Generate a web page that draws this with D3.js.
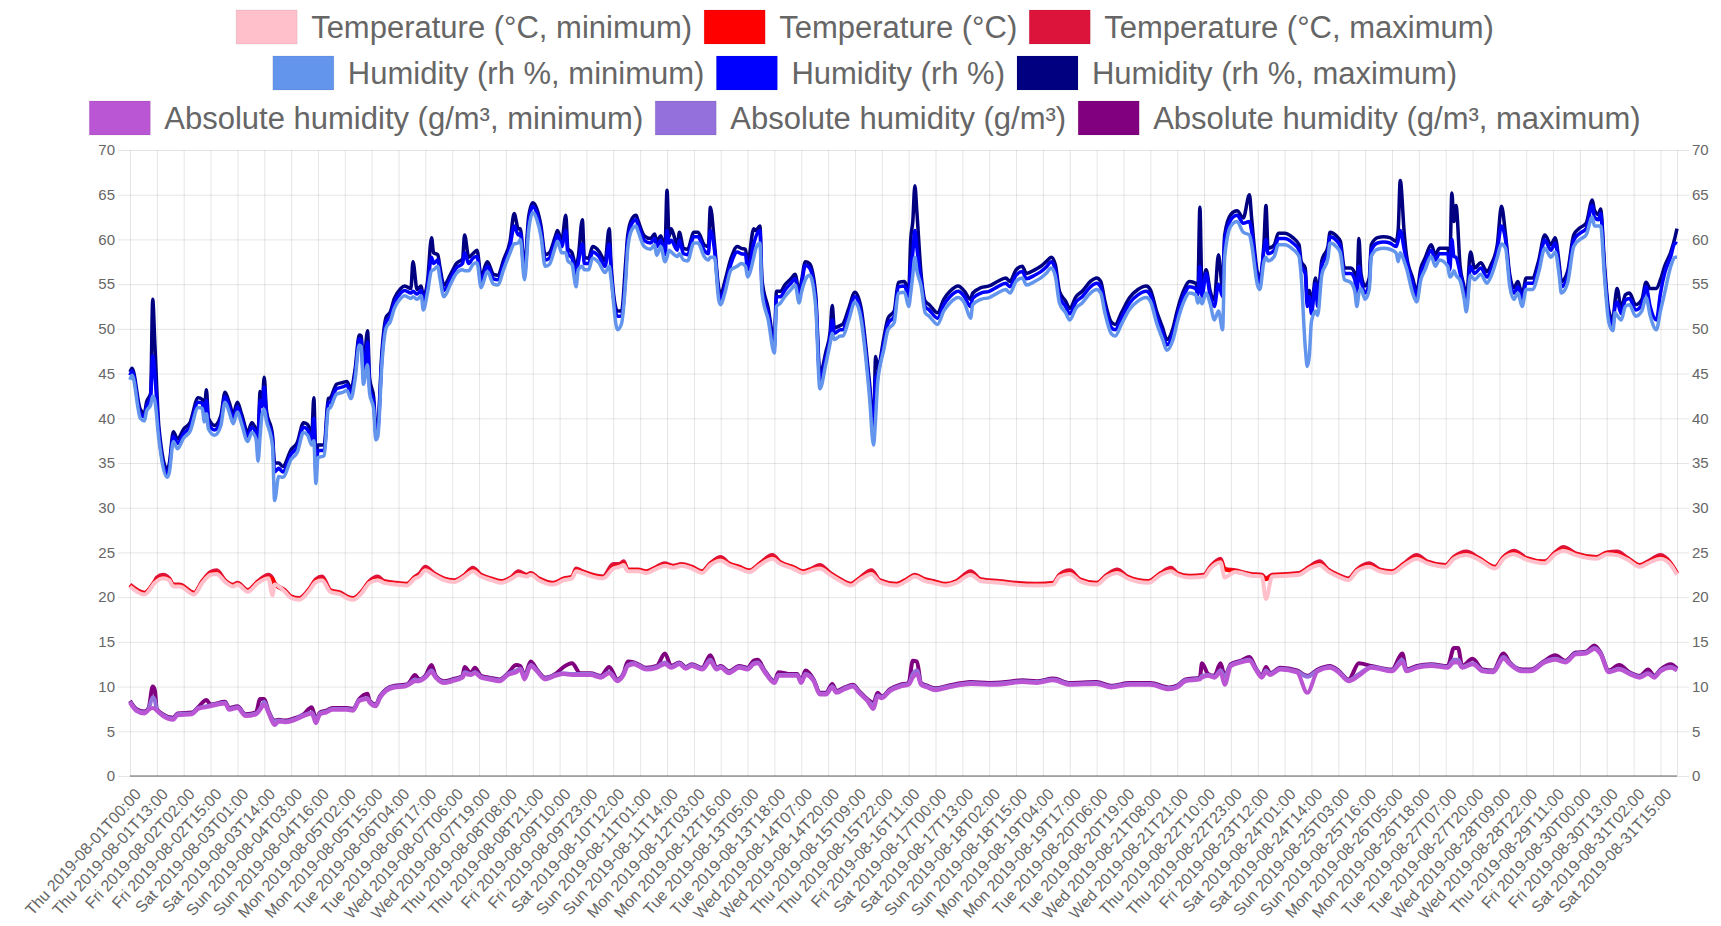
<!DOCTYPE html>
<html>
<head>
<meta charset="utf-8">
<script src="https://cdn.jsdelivr.net/npm/d3@7"></script>
<style>
  body { margin: 0; background: #fff; }
  svg text { font-family: "Liberation Sans", Arial, Helvetica, sans-serif; fill: #666; }
</style>
</head>
<body>
<div id="chart"></div>
<script>
// Sensor readings, August 2019 (point index along the category axis, one point per reading)
const xTickLabels = [
  "Thu 2019-08-01T00:00", "Thu 2019-08-01T13:00", "Fri 2019-08-02T02:00", "Fri 2019-08-02T15:00",
  "Sat 2019-08-03T01:00", "Sat 2019-08-03T14:00", "Sun 2019-08-04T03:00", "Sun 2019-08-04T16:00",
  "Mon 2019-08-05T02:00", "Mon 2019-08-05T15:00", "Tue 2019-08-06T04:00", "Tue 2019-08-06T17:00",
  "Wed 2019-08-07T06:00", "Wed 2019-08-07T19:00", "Thu 2019-08-08T08:00", "Thu 2019-08-08T21:00",
  "Fri 2019-08-09T10:00", "Fri 2019-08-09T23:00", "Sat 2019-08-10T12:00", "Sun 2019-08-11T01:00",
  "Sun 2019-08-11T14:00", "Mon 2019-08-12T03:00", "Mon 2019-08-12T16:00", "Tue 2019-08-13T05:00",
  "Tue 2019-08-13T18:00", "Wed 2019-08-14T07:00", "Wed 2019-08-14T20:00", "Thu 2019-08-15T09:00",
  "Thu 2019-08-15T22:00", "Fri 2019-08-16T11:00", "Sat 2019-08-17T00:00", "Sat 2019-08-17T13:00",
  "Sun 2019-08-18T02:00", "Sun 2019-08-18T15:00", "Mon 2019-08-19T04:00", "Mon 2019-08-19T17:00",
  "Tue 2019-08-20T06:00", "Tue 2019-08-20T19:00", "Wed 2019-08-21T08:00", "Wed 2019-08-21T21:00",
  "Thu 2019-08-22T10:00", "Thu 2019-08-22T23:00", "Fri 2019-08-23T12:00", "Sat 2019-08-24T01:00",
  "Sat 2019-08-24T14:00", "Sun 2019-08-25T03:00", "Sun 2019-08-25T16:00", "Mon 2019-08-26T05:00",
  "Mon 2019-08-26T18:00", "Tue 2019-08-27T07:00", "Tue 2019-08-27T20:00", "Wed 2019-08-28T09:00",
  "Wed 2019-08-28T22:00", "Thu 2019-08-29T11:00", "Fri 2019-08-30T00:00", "Fri 2019-08-30T13:00",
  "Sat 2019-08-31T02:00", "Sat 2019-08-31T15:00"
];
const labelStep = 13;      // category axis shows every 13th reading
const lastIndex = 749;     // 750 readings

const yTicks = [0, 5, 10, 15, 20, 25, 30, 35, 40, 45, 50, 55, 60, 65, 70];

// Humidity (rh %)
const humIdx = [
  0, 1, 5, 7, 8, 10, 11, 12, 14, 18,
  19, 21, 23, 26, 29, 33, 35, 36, 37, 38,
  41, 44, 46, 48, 50, 52, 54, 57, 59, 61,
  62, 63, 64, 65, 66, 69, 70, 72, 74, 78,
  81, 84, 86, 88, 89, 90, 91, 94, 96, 97,
  100, 103, 105, 107, 109, 111, 112, 113, 115, 116,
  118, 119, 120, 122, 124, 126, 128, 131, 133, 136,
  137, 139, 141, 142, 144, 146, 147, 149, 150, 152,
  155, 158, 161, 162, 164, 166, 168, 170, 173, 176,
  178, 181, 184, 186, 188, 189, 191, 193, 195, 197,
  199, 201, 203, 206, 207, 209, 211, 212, 214, 216,
  217, 219, 220, 222, 224, 227, 230, 232, 233, 236,
  238, 240, 241, 243, 245, 246, 249, 252, 254, 255,
  257, 259, 260, 261, 262, 265, 266, 268, 270, 273,
  275, 278, 280, 281, 283, 285, 286, 288, 291, 294,
  296, 298, 299, 302, 303, 305, 306, 309, 312, 313,
  315, 317, 320, 322, 324, 325, 327, 329, 332, 334,
  337, 339, 340, 341, 344, 345, 348, 351, 354, 356,
  358, 360, 361, 362, 365, 367, 370, 372, 375, 377,
  378, 379, 380, 381, 383, 385, 387, 391, 394, 397,
  401, 404, 407, 408, 412, 416, 420, 424, 426, 429,
  432, 434, 438, 441, 444, 446, 448, 450, 453, 455,
  458, 461, 465, 468, 470, 472, 475, 477, 480, 484,
  488, 492, 494, 497, 500, 502, 505, 507, 510, 513,
  516, 517, 518, 519, 521, 523, 525, 527, 529, 530,
  533, 536, 539, 542, 543, 546, 547, 549, 550, 551,
  554, 556, 559, 563, 566, 567, 569, 570, 571, 572,
  574, 575, 577, 580, 581, 584, 586, 588, 591, 593,
  594, 595, 596, 598, 600, 601, 604, 607, 610, 613,
  614, 615, 617, 618, 621, 623, 625, 627, 630, 632,
  634, 638, 639, 640, 641, 642, 644, 646, 647, 649,
  651, 654, 657, 659, 662, 664, 666, 668, 670, 672,
  674, 676, 679, 682, 685, 688, 690, 692, 693, 696,
  699, 702, 705, 708, 709, 711, 712, 714, 716, 718,
  719, 720, 722, 724, 726, 729, 732, 734, 736, 739,
  741, 743, 746, 748, 749
];
const humAvg = [
  44.8, 45.3, 40.5, 40.2, 41.3, 42.4, 47.0, 45.0, 38.3, 33.8,
  34.4, 38.0, 37.2, 38.3, 39.0, 41.8, 41.7, 40.2, 42.0, 39.4,
  38.7, 39.8, 42.4, 41.3, 40.0, 41.3, 40.0, 38.0, 39.0, 38.3,
  37.5, 42.0, 41.3, 43.5, 40.5, 37.6, 34.0, 34.4, 34.0, 36.0,
  36.8, 39.0, 38.7, 37.6, 40.0, 34.0, 36.4, 36.4, 41.7, 41.8,
  43.3, 43.5, 43.7, 42.8, 45.0, 48.9, 48.7, 44.6, 48.5, 43.5,
  41.7, 38.3, 38.7, 46.9, 50.8, 51.4, 52.9, 54.0, 54.3, 54.0,
  54.2, 53.9, 54.3, 52.9, 54.7, 58.0, 57.3, 57.7, 56.4, 54.3,
  55.5, 56.8, 57.3, 58.5, 57.3, 57.9, 58.1, 55.3, 57.0, 55.6,
  55.5, 57.3, 59.2, 61.5, 60.5, 60.7, 56.2, 61.8, 63.7, 62.9,
  61.0, 57.7, 57.9, 59.9, 60.5, 59.2, 61.0, 58.4, 57.9, 56.2,
  57.3, 59.5, 57.3, 57.3, 58.6, 58.1, 57.0, 59.5, 56.2, 51.4,
  51.4, 56.2, 59.9, 61.8, 62.2, 61.6, 59.9, 59.6, 60.1, 59.2,
  59.9, 58.3, 61.0, 59.6, 59.9, 58.8, 59.9, 58.4, 58.3, 60.3,
  60.3, 58.8, 58.4, 61.0, 58.8, 54.0, 53.2, 54.7, 57.3, 58.6,
  58.4, 58.3, 56.6, 59.5, 60.3, 61.0, 54.7, 51.7, 48.0, 53.6,
  53.6, 54.3, 55.1, 55.6, 53.6, 54.7, 57.1, 56.8, 53.2, 44.3,
  46.9, 49.1, 51.0, 49.5, 49.9, 49.9, 51.7, 53.6, 51.7, 48.0,
  43.5, 38.3, 44.5, 45.0, 48.4, 50.6, 51.4, 54.7, 54.8, 53.6,
  57.0, 58.5, 61.0, 59.0, 55.5, 52.5, 52.1, 51.2, 52.7, 53.6,
  54.2, 53.6, 52.5, 53.4, 54.0, 54.2, 54.7, 55.1, 54.7, 56.0,
  56.4, 55.6, 56.0, 56.4, 57.0, 57.5, 56.6, 53.6, 52.5, 51.7,
  53.0, 53.6, 54.7, 55.1, 54.7, 52.5, 50.2, 49.9, 51.2, 52.9,
  53.8, 54.2, 53.8, 51.4, 49.5, 48.2, 49.5, 51.4, 53.6, 54.7,
  54.5, 53.8, 57.0, 53.6, 56.2, 53.6, 52.5, 55.0, 53.6, 59.9,
  62.2, 62.7, 61.8, 62.0, 61.0, 55.5, 55.1, 58.8, 60.0, 58.4,
  58.8, 60.1, 60.1, 59.6, 58.8, 57.0, 56.2, 52.5, 53.6, 51.7,
  55.1, 52.5, 57.0, 58.6, 60.3, 59.9, 59.2, 56.2, 56.2, 55.5,
  53.6, 57.0, 55.5, 54.0, 55.1, 58.8, 59.6, 59.7, 59.6, 59.2,
  59.9, 61.0, 58.8, 57.7, 55.1, 53.6, 56.2, 57.3, 58.8, 57.7,
  58.4, 58.4, 56.6, 60.0, 58.1, 58.0, 56.2, 54.0, 52.5, 57.0,
  56.2, 56.8, 55.8, 56.6, 58.8, 61.5, 59.9, 55.5, 54.0, 54.7,
  53.2, 55.1, 55.1, 57.0, 59.9, 58.8, 59.6, 56.6, 54.7, 55.8,
  59.9, 60.7, 61.2, 63.8, 62.5, 62.2, 62.9, 56.2, 51.4, 50.4,
  52.5, 53.0, 51.7, 53.2, 53.4, 52.1, 52.7, 54.7, 52.5, 51.0,
  54.0, 56.2, 58.1, 59.6, 59.5
];
const humMin = [
  44.3, 44.8, 40.0, 39.7, 40.8, 41.5, 42.5, 42.0, 37.6, 33.4,
  33.9, 37.4, 36.6, 37.8, 38.5, 41.2, 41.1, 39.6, 40.5, 38.8,
  38.1, 39.2, 41.8, 40.7, 39.4, 40.7, 39.4, 37.4, 38.4, 37.7,
  35.2, 38.0, 40.5, 41.0, 39.8, 36.9, 30.8, 33.5, 33.4, 35.4,
  36.2, 38.4, 38.1, 37.0, 37.5, 32.7, 35.6, 35.8, 41.0, 41.2,
  42.7, 42.9, 43.1, 42.2, 44.4, 48.2, 48.0, 43.8, 46.0, 42.8,
  41.0, 37.6, 38.0, 46.2, 50.1, 50.8, 52.3, 53.4, 53.7, 53.4,
  53.6, 53.3, 53.7, 52.1, 54.0, 56.5, 56.6, 57.0, 55.7, 53.6,
  54.9, 56.2, 56.6, 56.5, 56.5, 57.2, 57.4, 54.6, 56.4, 55.0,
  54.9, 56.7, 58.5, 59.5, 59.6, 60.0, 55.5, 61.0, 63.0, 62.2,
  60.3, 57.0, 57.2, 59.2, 59.8, 58.5, 58.5, 57.6, 57.2, 54.7,
  56.6, 57.0, 56.6, 56.6, 57.9, 57.4, 56.3, 57.0, 55.4, 49.9,
  50.6, 55.4, 59.0, 61.1, 61.5, 60.9, 59.2, 58.9, 59.4, 58.2,
  59.2, 57.5, 58.0, 58.8, 58.6, 58.1, 58.4, 57.7, 57.6, 59.6,
  59.6, 58.1, 57.7, 58.0, 58.0, 53.3, 52.7, 54.0, 56.6, 57.0,
  57.3, 57.0, 55.8, 58.0, 59.0, 59.6, 54.0, 51.0, 47.3, 52.5,
  52.9, 53.6, 54.4, 54.9, 52.9, 54.0, 55.5, 56.0, 52.5, 43.3,
  46.2, 48.4, 49.5, 48.8, 49.2, 49.2, 51.0, 53.0, 51.0, 47.3,
  42.5, 37.0, 40.0, 44.0, 47.7, 49.9, 50.7, 54.0, 54.1, 52.5,
  54.0, 56.0, 58.0, 56.5, 54.8, 51.8, 51.4, 50.5, 52.0, 52.9,
  53.5, 52.9, 51.2, 52.7, 53.3, 53.5, 54.0, 54.4, 54.0, 55.3,
  55.7, 54.9, 55.3, 55.7, 56.3, 56.8, 55.9, 52.9, 51.8, 51.0,
  52.3, 52.9, 54.0, 54.4, 54.0, 51.8, 49.5, 49.2, 50.5, 52.2,
  53.1, 53.5, 53.1, 50.7, 48.8, 47.6, 48.8, 50.7, 52.9, 54.0,
  53.8, 52.9, 53.5, 52.8, 54.0, 52.8, 51.0, 52.0, 49.9, 58.0,
  61.5, 62.0, 60.8, 60.5, 59.5, 54.8, 54.4, 57.5, 58.0, 57.6,
  58.1, 59.4, 59.4, 58.9, 58.1, 56.0, 48.0, 45.8, 47.0, 50.8,
  52.0, 51.5, 56.0, 57.9, 59.6, 59.2, 58.5, 55.5, 55.2, 54.2,
  52.5, 54.0, 54.5, 53.3, 54.4, 58.1, 58.9, 59.0, 58.9, 58.5,
  57.5, 58.5, 57.5, 56.8, 54.0, 53.0, 55.5, 56.6, 58.1, 57.0,
  57.7, 57.0, 55.8, 56.0, 56.5, 56.0, 55.4, 53.3, 51.9, 56.0,
  55.5, 56.1, 55.1, 55.9, 58.0, 59.5, 59.0, 54.8, 53.3, 54.0,
  52.5, 54.4, 54.4, 56.3, 59.0, 58.0, 58.6, 55.9, 54.0, 55.1,
  59.2, 60.0, 60.5, 62.5, 61.5, 61.5, 61.5, 55.5, 50.7, 49.8,
  51.8, 51.5, 51.0, 52.5, 52.7, 51.4, 52.0, 53.5, 51.5, 49.9,
  52.0, 54.0, 57.0, 58.0, 58.0
];
const humMax = [
  45.2, 45.6, 41.0, 40.6, 41.8, 42.8, 53.3, 48.5, 39.0, 34.3,
  34.9, 38.5, 37.7, 38.8, 39.5, 42.3, 42.1, 40.8, 43.2, 40.0,
  39.2, 40.3, 42.9, 41.8, 40.5, 41.8, 40.5, 38.5, 39.5, 38.8,
  38.5, 43.0, 41.8, 44.6, 41.0, 38.1, 35.0, 35.0, 34.6, 36.5,
  37.3, 39.5, 39.3, 38.2, 42.3, 35.5, 37.0, 37.0, 42.2, 42.3,
  43.8, 44.0, 44.1, 43.3, 45.5, 49.3, 49.2, 45.5, 49.8, 44.5,
  42.3, 38.9, 39.3, 47.5, 51.3, 51.9, 53.4, 54.5, 54.8, 54.5,
  57.5, 54.4, 54.8, 53.6, 55.2, 60.2, 58.5, 58.3, 57.0, 54.9,
  56.0, 57.3, 57.8, 60.5, 58.0, 58.4, 58.8, 55.9, 57.5, 56.1,
  56.0, 57.8, 59.8, 62.9, 61.2, 61.2, 56.8, 62.5, 64.1, 63.4,
  61.5, 58.3, 58.5, 60.4, 61.0, 59.8, 62.7, 59.0, 58.5, 57.0,
  58.0, 62.2, 58.0, 57.9, 59.2, 58.7, 57.6, 61.2, 56.9, 52.0,
  52.0, 57.5, 60.5, 62.3, 62.7, 62.1, 60.4, 60.1, 60.6, 59.8,
  60.4, 58.9, 65.5, 60.3, 61.2, 59.4, 60.8, 59.0, 58.9, 60.8,
  60.8, 59.4, 59.2, 63.6, 59.5, 54.6, 53.8, 55.3, 57.9, 59.2,
  59.0, 58.9, 57.3, 61.2, 61.0, 61.5, 55.5, 52.3, 48.6, 54.2,
  54.2, 54.9, 55.6, 56.1, 54.2, 55.2, 57.5, 57.3, 53.8, 45.0,
  47.5, 49.7, 52.6, 50.1, 50.4, 50.5, 52.3, 54.1, 52.3, 48.6,
  44.1, 39.0, 46.9, 45.6, 49.0, 51.2, 52.0, 55.2, 55.3, 54.2,
  60.0, 62.0, 66.0, 63.0, 56.2, 53.1, 52.7, 51.8, 53.3, 54.2,
  54.8, 54.2, 53.3, 54.0, 54.6, 54.8, 55.3, 55.7, 55.3, 56.6,
  57.0, 56.2, 56.6, 57.0, 57.6, 58.0, 57.2, 54.2, 53.1, 52.3,
  53.6, 54.2, 55.3, 55.7, 55.3, 53.1, 50.8, 50.5, 51.8, 53.5,
  54.4, 54.8, 54.4, 52.0, 50.1, 48.8, 50.1, 52.0, 54.2, 55.3,
  55.1, 54.4, 63.6, 54.5, 56.6, 54.2, 53.2, 58.3, 54.5, 60.5,
  62.8, 63.2, 62.4, 65.0, 62.5, 56.1, 55.7, 59.5, 63.8, 59.0,
  59.4, 60.7, 60.7, 60.2, 59.4, 57.6, 56.8, 53.5, 54.3, 52.5,
  55.7, 53.5, 57.6, 59.2, 60.8, 60.4, 59.8, 56.8, 56.8, 56.2,
  54.5, 60.1, 56.2, 54.8, 55.7, 59.4, 60.2, 60.3, 60.2, 59.8,
  61.0, 66.6, 60.5, 58.3, 55.7, 54.2, 56.8, 57.9, 59.4, 58.3,
  59.0, 59.0, 57.5, 65.2, 62.0, 63.8, 57.0, 54.6, 53.1, 58.6,
  56.8, 57.4, 56.4, 57.2, 59.4, 63.7, 60.5, 56.1, 54.6, 55.3,
  53.8, 55.7, 55.7, 57.6, 60.5, 59.4, 60.2, 57.2, 55.3, 56.4,
  60.5, 61.3, 61.8, 64.4, 63.3, 62.8, 63.4, 56.8, 52.0, 51.0,
  53.1, 54.5, 52.3, 53.8, 54.0, 52.7, 53.3, 55.2, 54.5, 54.5,
  55.5, 57.0, 58.6, 60.2, 61.2
];

// Temperature (°C)
const tempIdx = [
  0, 7, 12, 13, 16, 19, 21, 24, 31, 35,
  39, 42, 46, 50, 52, 57, 62, 67, 69, 70,
  75, 78, 82, 87, 90, 93, 97, 102, 105, 108,
  112, 116, 120, 123, 129, 134, 138, 140, 143, 147,
  152, 157, 162, 166, 170, 175, 180, 185, 188, 192,
  194, 198, 205, 210, 214, 216, 219, 224, 229, 234,
  237, 239, 241, 246, 250, 255, 259, 263, 267, 272,
  277, 281, 286, 290, 295, 300, 305, 311, 315, 321,
  326, 330, 334, 339, 344, 349, 353, 359, 363, 371,
  376, 380, 385, 389, 395, 400, 407, 412, 421, 429,
  439, 447, 450, 455, 460, 468, 473, 478, 483, 493,
  499, 504, 507, 513, 520, 523, 528, 530, 535, 543,
  548, 550, 553, 560, 566, 571, 576, 580, 585, 590,
  594, 600, 605, 611, 617, 623, 628, 637, 641, 647,
  653, 661, 665, 670, 676, 685, 690, 694, 700, 710,
  715, 720, 725, 731, 735, 741, 746, 749
];
const tempAvg = [
  21.3, 20.4, 21.7, 21.9, 22.2, 22.0, 21.3, 21.3, 20.4, 21.7,
  22.6, 22.7, 21.8, 21.3, 21.5, 20.7, 21.7, 22.2, 22.0, 21.5,
  20.7, 20.0, 19.8, 20.9, 21.8, 22.0, 20.7, 20.4, 20.0, 19.8,
  20.5, 21.7, 22.0, 21.7, 21.5, 21.4, 22.2, 22.4, 23.1, 22.6,
  22.0, 21.8, 22.4, 23.0, 22.4, 22.0, 21.7, 22.2, 22.6, 22.4,
  22.6, 22.0, 21.5, 22.0, 22.2, 23.0, 22.8, 22.4, 22.2, 23.3,
  23.5, 23.7, 23.0, 23.0, 22.8, 23.3, 23.6, 23.4, 23.6, 23.3,
  22.8, 23.7, 24.2, 23.7, 23.3, 22.9, 23.7, 24.4, 23.8, 23.3,
  22.8, 23.1, 23.3, 22.6, 21.9, 21.4, 22.0, 22.7, 21.8, 21.4,
  21.9, 22.4, 21.9, 21.7, 21.4, 21.7, 22.6, 21.9, 21.7, 21.5,
  21.4, 21.5, 22.4, 22.7, 21.9, 21.5, 22.4, 22.8, 22.2, 21.7,
  22.6, 23.0, 22.6, 22.3, 22.4, 23.3, 24.0, 23.1, 22.9, 22.5,
  22.4, 22.0, 22.4, 22.5, 22.6, 23.3, 23.7, 23.0, 22.4, 22.0,
  23.0, 23.5, 23.0, 22.8, 23.7, 24.4, 23.9, 23.5, 24.4, 24.8,
  24.3, 23.3, 24.4, 24.9, 24.3, 23.9, 24.9, 25.3, 24.8, 24.4,
  24.9, 24.8, 24.3, 23.5, 23.9, 24.4, 23.7, 22.6
];
const tempMin = [
  21.2, 20.3, 21.6, 21.8, 22.1, 21.9, 21.2, 21.2, 20.3, 21.6,
  22.5, 22.6, 21.7, 21.2, 21.4, 20.6, 21.6, 22.1, 20.2, 21.4,
  20.6, 19.9, 19.7, 20.8, 21.7, 21.9, 20.6, 20.3, 19.9, 19.7,
  20.4, 21.6, 21.9, 21.6, 21.4, 21.3, 22.1, 22.3, 23.0, 22.5,
  21.9, 21.7, 22.3, 22.9, 22.3, 21.9, 21.6, 22.1, 22.5, 22.3,
  22.5, 21.9, 21.4, 21.9, 22.1, 22.9, 22.7, 22.3, 22.1, 23.2,
  23.4, 23.6, 22.9, 22.9, 22.7, 23.2, 23.5, 23.3, 23.5, 23.2,
  22.7, 23.6, 24.1, 23.6, 23.2, 22.8, 23.6, 24.3, 23.7, 23.2,
  22.7, 23.0, 23.2, 22.5, 21.8, 21.3, 21.9, 22.6, 21.7, 21.3,
  21.8, 22.3, 21.8, 21.6, 21.3, 21.6, 22.5, 21.8, 21.6, 21.4,
  21.3, 21.4, 22.3, 22.6, 21.8, 21.4, 22.3, 22.7, 22.1, 21.6,
  22.5, 22.9, 22.5, 22.2, 22.3, 23.2, 23.9, 22.2, 22.8, 22.4,
  22.3, 19.8, 22.3, 22.4, 22.5, 23.2, 23.6, 22.9, 22.3, 21.9,
  22.9, 23.4, 22.9, 22.7, 23.6, 24.3, 23.8, 23.4, 24.3, 24.7,
  24.2, 23.2, 24.3, 24.8, 24.2, 23.8, 24.8, 25.2, 24.7, 24.3,
  24.8, 24.7, 24.2, 23.4, 23.8, 24.3, 23.6, 22.5
];
const tempMax = [
  21.4, 20.5, 21.8, 22.2, 22.5, 22.1, 21.4, 21.4, 20.5, 21.8,
  22.8, 23.0, 21.9, 21.4, 21.6, 20.8, 21.8, 22.5, 22.1, 21.6,
  20.8, 20.1, 19.9, 21.0, 22.0, 22.3, 20.8, 20.5, 20.1, 19.9,
  20.6, 21.8, 22.3, 21.8, 21.6, 21.5, 22.3, 22.6, 23.4, 22.7,
  22.1, 21.9, 22.5, 23.3, 22.5, 22.1, 21.8, 22.3, 22.9, 22.5,
  22.7, 22.1, 21.6, 22.1, 22.3, 23.2, 22.9, 22.5, 22.3, 23.7,
  23.7, 24.0, 23.1, 23.1, 22.9, 23.4, 23.8, 23.5, 23.7, 23.4,
  22.9, 23.8, 24.5, 23.8, 23.4, 23.0, 23.8, 24.7, 23.9, 23.4,
  22.9, 23.2, 23.6, 22.7, 22.0, 21.5, 22.1, 23.0, 21.9, 21.5,
  22.0, 22.5, 22.0, 21.8, 21.5, 21.8, 22.9, 22.0, 21.8, 21.6,
  21.5, 21.6, 22.5, 23.0, 22.0, 21.6, 22.5, 23.1, 22.3, 21.8,
  22.7, 23.3, 22.7, 22.4, 22.5, 23.4, 24.3, 23.2, 23.0, 22.6,
  22.5, 22.1, 22.5, 22.6, 22.7, 23.4, 24.0, 23.1, 22.5, 22.1,
  23.1, 23.8, 23.1, 22.9, 23.8, 24.7, 24.0, 23.6, 24.5, 25.1,
  24.4, 23.4, 24.5, 25.2, 24.4, 24.0, 25.0, 25.6, 24.9, 24.5,
  25.0, 25.1, 24.4, 23.6, 24.0, 24.7, 23.8, 22.7
];

// Absolute humidity (g/m³)
const absIdx = [
  0, 3, 7, 9, 11, 12, 13, 16, 21, 23,
  30, 33, 37, 39, 46, 48, 52, 56, 61, 63,
  65, 67, 70, 72, 75, 79, 84, 88, 90, 92,
  95, 98, 105, 108, 111, 115, 116, 119, 121, 124,
  128, 133, 135, 138, 140, 143, 146, 148, 152, 156,
  161, 162, 165, 167, 170, 174, 179, 183, 187, 189,
  191, 194, 197, 201, 206, 210, 214, 218, 223, 228,
  232, 236, 239, 241, 244, 246, 250, 255, 259, 262,
  266, 269, 272, 277, 281, 284, 286, 290, 295, 299,
  302, 304, 307, 312, 314, 320, 323, 325, 327, 331,
  334, 337, 340, 342, 346, 350, 353, 357, 360, 362,
  364, 368, 373, 377, 379, 381, 383, 386, 390, 396,
  403, 407, 416, 424, 432, 439, 447, 455, 468, 475,
  484, 494, 503, 507, 511, 518, 519, 522, 525, 528,
  530, 533, 538, 542, 545, 548, 550, 552, 557, 565,
  570, 575, 581, 585, 590, 595, 601, 611, 616, 618,
  623, 630, 638, 641, 643, 645, 650, 655, 660, 665,
  668, 674, 678, 685, 690, 695, 700, 705, 709, 712,
  716, 721, 726, 731, 735, 738, 741, 746, 749
];
const absAvg = [
  8.3, 7.4, 7.1, 7.5, 8.8, 8.5, 7.4, 6.8, 6.4, 6.9,
  7.0, 7.6, 7.8, 7.9, 8.2, 7.5, 7.7, 6.8, 7.0, 7.5,
  8.3, 7.2, 6.1, 6.2, 6.1, 6.3, 6.8, 7.1, 6.3, 7.0,
  7.2, 7.5, 7.5, 7.4, 8.5, 8.7, 8.3, 7.9, 8.8, 9.6,
  10.0, 10.1, 10.3, 10.8, 10.7, 11.1, 11.8, 11.1, 10.5, 10.7,
  11.1, 11.6, 11.4, 11.6, 11.1, 10.9, 10.7, 11.4, 11.8, 12.0,
  11.1, 12.4, 11.8, 10.9, 11.3, 11.5, 11.4, 11.4, 11.4, 11.1,
  11.6, 10.7, 11.4, 12.4, 12.6, 12.4, 12.0, 12.2, 12.7, 12.2,
  12.6, 12.1, 12.4, 12.0, 13.0, 12.0, 12.2, 11.6, 12.2, 12.0,
  12.6, 12.7, 11.8, 10.5, 11.3, 11.3, 11.3, 10.5, 11.4, 10.7,
  9.2, 9.2, 10.0, 9.4, 9.8, 10.1, 9.4, 8.5, 7.9, 9.0,
  8.8, 9.6, 10.1, 10.3, 11.4, 11.8, 10.3, 10.0, 9.7, 10.0,
  10.3, 10.4, 10.3, 10.4, 10.6, 10.5, 10.8, 10.3, 10.4, 10.0,
  10.3, 10.3, 9.8, 10.0, 10.7, 10.9, 11.2, 11.3, 11.1, 11.8,
  11.1, 12.4, 12.8, 13.0, 12.0, 11.1, 11.8, 11.4, 12.0, 11.7,
  11.1, 11.8, 12.2, 11.7, 10.7, 11.4, 12.2, 11.8, 13.0, 11.8,
  12.2, 12.4, 12.2, 13.0, 13.0, 12.2, 12.6, 11.8, 11.7, 13.3,
  12.6, 11.8, 11.8, 12.8, 13.1, 12.8, 13.7, 13.8, 14.3, 13.7,
  11.7, 12.0, 11.5, 11.1, 11.5, 11.1, 11.8, 12.2, 11.9
];
const absMin = [
  8.2, 7.3, 7.0, 7.4, 7.6, 7.5, 7.3, 6.7, 6.3, 6.8,
  6.9, 7.5, 7.7, 7.8, 8.1, 7.4, 7.6, 6.7, 6.9, 7.4,
  8.0, 7.1, 5.7, 6.1, 6.0, 6.2, 6.7, 7.0, 5.9, 6.9,
  7.1, 7.4, 7.4, 7.3, 8.4, 8.6, 8.2, 7.8, 8.7, 9.5,
  9.9, 10.0, 10.2, 10.6, 10.6, 11.0, 11.6, 11.0, 10.4, 10.6,
  11.0, 11.4, 11.3, 11.5, 11.0, 10.8, 10.6, 11.3, 11.6, 11.9,
  10.8, 12.3, 11.7, 10.8, 11.2, 11.4, 11.3, 11.3, 11.3, 11.0,
  11.5, 10.6, 11.3, 12.3, 12.5, 12.3, 11.9, 12.1, 12.5, 12.1,
  12.5, 12.0, 12.3, 11.9, 12.8, 11.9, 12.1, 11.5, 12.1, 11.9,
  12.5, 12.6, 11.7, 10.4, 11.2, 11.2, 11.2, 10.4, 11.3, 10.6,
  9.1, 9.1, 9.9, 9.3, 9.7, 10.0, 9.3, 8.4, 7.5, 8.9,
  8.7, 9.5, 10.0, 10.2, 11.0, 11.4, 10.2, 9.9, 9.6, 9.9,
  10.2, 10.3, 10.2, 10.3, 10.5, 10.4, 10.7, 10.2, 10.3, 9.9,
  10.2, 10.2, 9.7, 9.9, 10.6, 10.8, 11.0, 11.2, 11.0, 11.6,
  10.2, 12.3, 12.7, 12.9, 11.9, 11.0, 11.6, 11.3, 11.9, 11.6,
  9.3, 11.7, 12.1, 11.6, 10.6, 11.2, 12.1, 11.7, 12.7, 11.7,
  12.1, 12.3, 12.1, 12.7, 12.7, 12.1, 12.5, 11.7, 11.6, 13.1,
  12.5, 11.7, 11.7, 12.7, 13.0, 12.7, 13.6, 13.7, 14.2, 13.6,
  11.6, 11.9, 11.4, 11.0, 11.4, 11.0, 11.7, 12.1, 11.8
];
const absMax = [
  8.4, 7.5, 7.2, 7.6, 10.0, 9.6, 7.5, 6.9, 6.5, 7.0,
  7.1, 7.7, 8.5, 8.0, 8.3, 7.6, 7.8, 6.9, 7.1, 8.6,
  8.6, 7.3, 6.2, 6.3, 6.2, 6.4, 6.9, 7.7, 6.4, 7.1,
  7.3, 7.6, 7.6, 7.5, 8.6, 9.2, 8.4, 8.0, 8.9, 9.7,
  10.1, 10.2, 10.4, 11.3, 10.8, 11.2, 12.4, 11.2, 10.6, 10.8,
  11.2, 12.2, 11.5, 12.1, 11.2, 11.0, 10.8, 11.5, 12.4, 12.3,
  11.2, 12.8, 11.9, 11.0, 11.4, 12.2, 12.6, 11.5, 11.5, 11.2,
  12.2, 10.8, 11.5, 12.8, 12.7, 12.5, 12.1, 12.3, 13.7, 12.3,
  12.7, 12.2, 12.5, 12.1, 13.5, 12.1, 12.3, 11.7, 12.3, 12.1,
  12.9, 13.0, 11.9, 10.6, 11.6, 11.4, 11.4, 10.6, 11.8, 10.8,
  9.3, 9.3, 10.3, 9.5, 9.9, 10.2, 9.5, 8.6, 8.2, 9.3,
  8.9, 9.7, 10.2, 10.4, 12.9, 12.8, 10.4, 10.1, 9.8, 10.1,
  10.4, 10.5, 10.4, 10.5, 10.7, 10.6, 10.9, 10.4, 10.5, 10.1,
  10.4, 10.4, 9.9, 10.1, 10.8, 11.0, 12.6, 11.4, 11.2, 12.6,
  11.2, 12.5, 12.9, 13.3, 12.1, 11.2, 12.2, 11.5, 12.1, 11.8,
  11.2, 11.9, 12.3, 11.8, 10.8, 12.6, 12.3, 11.9, 13.7, 11.9,
  12.3, 12.5, 12.3, 14.3, 14.3, 12.3, 13.1, 11.9, 11.8, 13.7,
  12.7, 11.9, 11.9, 12.9, 13.5, 12.9, 13.8, 13.9, 14.6, 13.8,
  11.8, 12.4, 11.6, 11.2, 11.9, 11.2, 11.9, 12.5, 12.0
];

const seriesNames = [
  "Temperature (°C, minimum)", "Temperature (°C)", "Temperature (°C, maximum)",
  "Humidity (rh %, minimum)", "Humidity (rh %)", "Humidity (rh %, maximum)",
  "Absolute humidity (g/m³, minimum)", "Absolute humidity (g/m³)", "Absolute humidity (g/m³, maximum)"
];
const seriesColors = [
  "pink", "red", "crimson",
  "cornflowerblue", "blue", "navy",
  "mediumorchid", "mediumpurple", "purple"
];

// ---- layout ----
const width = 1721, height = 926;
const plot = { left: 130, right: 1677, top: 150, bottom: 776 };

const series = [
  { idx: tempIdx, values: tempMin, w: 4 }, { idx: tempIdx, values: tempAvg, w: 4 }, { idx: tempIdx, values: tempMax, w: 4 },
  { idx: humIdx, values: humMin, w: 3.5 }, { idx: humIdx, values: humAvg, w: 3.5 }, { idx: humIdx, values: humMax, w: 3.5 },
  { idx: absIdx, values: absMin, w: 4 }, { idx: absIdx, values: absAvg, w: 4 }, { idx: absIdx, values: absMax, w: 4 }
].map((s, i) => ({
  name: seriesNames[i],
  color: seriesColors[i],
  width: s.w,
  points: s.idx.map((d, j) => [d, s.values[j]])
}));

const svg = d3.select('#chart')
    .append('svg')
    .attr('width', width)
    .attr('height', height);

const x = d3.scaleLinear().domain([0, lastIndex]).range([plot.left, plot.right]);
const y = d3.scaleLinear().domain([0, 70]).range([plot.bottom, plot.top]);

const tickIdx = xTickLabels.map((d, i) => i * labelStep);

// horizontal grid lines (with the little tick stubs on both sides)
const hGrid = svg.append('g')
    .attr('transform', `translate(${plot.right + 12},0)`)
    .call(d3.axisLeft(y).tickValues(yTicks).tickSize(plot.right - plot.left + 24).tickFormat(''));
hGrid.select('.domain').remove();
hGrid.selectAll('line').attr('stroke', 'rgba(0,0,0,0.1)');

// vertical grid lines
const vGrid = svg.append('g')
    .attr('transform', `translate(0,${plot.bottom})`)
    .call(d3.axisBottom(x).tickValues(tickIdx.concat([lastIndex])).tickSize(-(plot.bottom - plot.top)).tickFormat(''));
vGrid.select('.domain').remove();
vGrid.selectAll('line').attr('stroke', 'rgba(0,0,0,0.1)');

// zero line
svg.append('line')
    .attr('x1', plot.left).attr('x2', plot.right)
    .attr('y1', y(0)).attr('y2', y(0))
    .attr('stroke', 'rgba(0,0,0,0.3)')
    .attr('stroke-width', 2);

// y axis labels, both sides
const yLeft = svg.append('g')
    .attr('transform', `translate(${plot.left},0)`)
    .call(d3.axisLeft(y).tickValues(yTicks).tickSize(0).tickPadding(15));
const yRight = svg.append('g')
    .attr('transform', `translate(${plot.right},0)`)
    .call(d3.axisRight(y).tickValues(yTicks).tickSize(0).tickPadding(15));
[yLeft, yRight].forEach(g => {
    g.select('.domain').remove();
    g.selectAll('text').attr('font-size', '15px').style('fill', '#666');
});

// x axis labels, rotated
const xAxis = svg.append('g')
    .attr('transform', `translate(0,${plot.bottom})`)
    .call(d3.axisBottom(x).tickValues(tickIdx).tickSize(0).tickFormat((d, i) => xTickLabels[i]));
xAxis.select('.domain').remove();
xAxis.selectAll('text')
    .attr('x', 0)
    .attr('y', 0)
    .attr('dy', '0.72em')
    .attr('font-size', '16px')
    .attr('text-anchor', 'end')
    .attr('transform', 'translate(3,11) rotate(-48)')
    .style('fill', '#666');

// lines: first dataset ends up on top, like the original
const line = d3.line()
    .x(d => x(d[0]))
    .y(d => y(d[1]))
    .curve(d3.curveMonotoneX);

svg.append('g')
    .attr('class', 'lines')
    .selectAll('path')
    .data(series.slice().reverse())
    .enter()
    .append('path')
    .attr('d', d => line(d.points))
    .attr('fill', 'none')
    .attr('stroke', d => d.color)
    .attr('stroke-width', d => d.width)
    .attr('stroke-linejoin', 'round');

// legend, three centred rows
const legendRows = [[0, 1, 2], [3, 4, 5], [6, 7, 8]];
const rowY = [27, 73, 118];
const boxW = 61, boxH = 34, boxGap = 14, itemGap = 12, legendCenter = 865;

const legend = svg.append('g').attr('class', 'legend');
legendRows.forEach((row, r) => {
    const g = legend.append('g');
    const items = row.map(k => {
        const item = g.append('g');
        item.append('rect')
            .attr('width', boxW).attr('height', boxH)
            .attr('y', rowY[r] - boxH / 2)
            .attr('fill', seriesColors[k])
            .attr('stroke', 'rgba(0,0,0,0.08)');
        const t = item.append('text')
            .attr('x', boxW + boxGap)
            .attr('y', rowY[r])
            .attr('dy', '0.35em')
            .attr('font-size', '31px')
            .text(seriesNames[k]);
        return { item, w: boxW + boxGap + t.node().getComputedTextLength() };
    });
    const total = d3.sum(items, d => d.w) + itemGap * (items.length - 1);
    let cx = legendCenter - total / 2;
    items.forEach(d => {
        d.item.attr('transform', `translate(${cx},0)`);
        cx += d.w + itemGap;
    });
});
</script>
</body>
</html>
